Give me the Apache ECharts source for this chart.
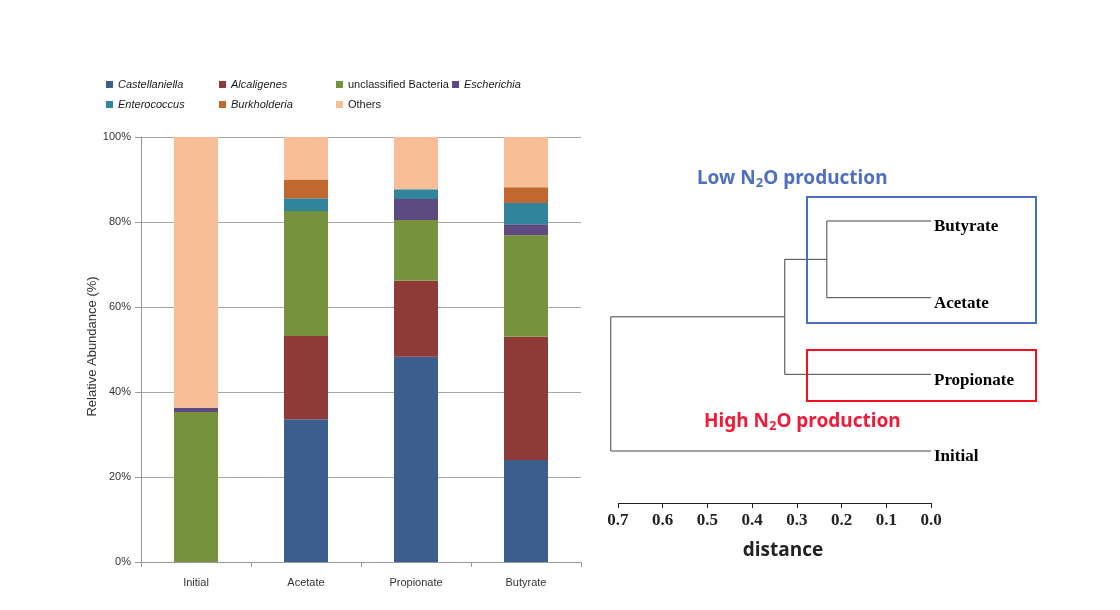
<!DOCTYPE html>
<html><head><meta charset="utf-8">
<script src="https://cdn.jsdelivr.net/npm/echarts@6/dist/echarts.min.js"></script>
<style>html,body{margin:0;padding:0;background:#fff}#c{width:1120px;height:610px}</style>
</head><body><div id="c"></div>
<script>
// ---- Stacked bar data (relative abundance, %) ----
const categories = ['Initial', 'Acetate', 'Propionate', 'Butyrate'];
const castellaniella = [0, 33.6, 48.3, 24.0];
const alcaligenes = [0, 19.6, 17.9, 29.0];
const unclassifiedBacteria = [35.3, 29.4, 14.3, 23.9];
const escherichia = [1.0, 0, 4.9, 2.6];
const enterococcus = [0, 3.0, 2.3, 5.0];
const burkholderia = [0, 4.4, 0, 3.7];
const others = [63.7, 10.0, 12.3, 11.8];
const taxa = ['Castellaniella', 'Alcaligenes', 'unclassified Bacteria', 'Escherichia', 'Enterococcus', 'Burkholderia', 'Others'];
const italicTaxa = ['Castellaniella', 'Alcaligenes', 'Escherichia', 'Enterococcus', 'Burkholderia'];

// ---- Dendrogram data ----
const leaves = ['Butyrate', 'Acetate', 'Propionate', 'Initial'];
// [child A, child B, merge distance]; leaves are 0..3, merged nodes 4..
const linkage = [[0, 1, 0.233], [4, 2, 0.327], [5, 3, 0.716]];
const distanceTicks = [0, 0.1, 0.2, 0.3, 0.4, 0.5, 0.6, 0.7];

const colors = ['#3B5E8C', '#8E3A38', '#76923C', '#5E4A7E', '#31849B', '#C0682E', '#F8BE98'];
const values = [castellaniella, alcaligenes, unclassifiedBacteria, escherichia, enterococcus, burkholderia, others];

const barSeries = taxa.map((t, i) => ({
  name: t, type: 'bar', stack: 'total', xAxisIndex: 0, yAxisIndex: 0,
  barWidth: 44, data: values[i], itemStyle: { color: colors[i] }
}));

// build dendrogram segments from linkage
const nodes = leaves.map((n, i) => ({ x: 0, y: i }));
const dendroSeries = linkage.map(([a, b, d]) => {
  const A = nodes[a], B = nodes[b];
  nodes.push({ x: d, y: (A.y + B.y) / 2 });
  return {
    type: 'line', xAxisIndex: 1, yAxisIndex: 1, clip: false, silent: true,
    showSymbol: false, symbol: 'none',
    lineStyle: { color: '#444', width: 1 },
    data: [[A.x, A.y], [d, A.y], [d, B.y], [B.x, B.y]]
  };
});

// legends: two rows, columns
const legendPos = [[106, 79], [219, 79], [336, 79], [452, 79], [106, 99], [219, 99], [336, 99]];
const legends = taxa.map((t, i) => ({
  data: [t], left: legendPos[i][0], top: legendPos[i][1], icon: 'rect', padding: 0,
  itemWidth: 7, itemHeight: 7, itemGap: 5,
  textStyle: { fontFamily: 'Liberation Sans', fontSize: 11, color: '#1a1a1a',
    fontStyle: italicTaxa.includes(t) ? 'italic' : 'normal' }
}));

const chart = echarts.init(document.getElementById('c'));
chart.setOption({
  animation: false,
  backgroundColor: '#fff',
  legend: legends,
  title: [
    { text: '{a|Low N}{s|2}{a|O production}', left: 692, top: 162,
      textStyle: { rich: {
        a: { fontFamily: 'Noto Sans', fontSize: 19, color: '#5070BE' },
        s: { fontFamily: 'Noto Sans', fontSize: 13, color: '#5070BE', padding: [10, 0, 0, 0] } } } },
    { text: '{a|High N}{s|2}{a|O production}', left: 699, top: 405,
      textStyle: { rich: {
        a: { fontFamily: 'Noto Sans', fontSize: 19, color: '#EE1C3A' },
        s: { fontFamily: 'Noto Sans', fontSize: 13, color: '#EE1C3A', padding: [10, 0, 0, 0] } } } }
  ],
  grid: [
    { left: 141, top: 137, width: 440, height: 425 },
    { left: 609, top: 221, width: 322, height: 230 }
  ],
  xAxis: [
    { type: 'category', gridIndex: 0, data: categories,
      axisLine: { lineStyle: { color: '#999' } },
      axisTick: { show: true, length: 5, lineStyle: { color: '#999' } },
      axisLabel: { fontFamily: 'Liberation Sans', fontSize: 11, color: '#333', margin: 15 } },
    { type: 'value', gridIndex: 1, min: 0, max: 0.72, inverse: true,
      position: 'bottom', offset: 52,
      axisLine: { show: false, onZero: false },
      axisTick: { show: true, length: 5, customValues: distanceTicks, lineStyle: { color: '#222' } },
      splitLine: { show: false },
      axisLabel: { customValues: distanceTicks, formatter: v => v.toFixed(1), fontFamily: 'Liberation Serif', fontWeight: 700,
        fontSize: 17, color: '#222', margin: 9 },
      name: 'distance', nameLocation: 'middle', nameGap: 38,
      nameTextStyle: { fontFamily: 'Open Sans', fontWeight: 'bold', fontSize: 19, color: '#222', padding: [0, 0, 0, 26] } }
  ],
  yAxis: [
    { type: 'value', gridIndex: 0, min: 0, max: 100, interval: 20,
      axisLine: { show: true, lineStyle: { color: '#999' } },
      axisTick: { show: true, length: 6, lineStyle: { color: '#999' } },
      splitLine: { lineStyle: { color: '#A6A6A6' } },
      axisLabel: { formatter: '{value}%', fontFamily: 'Liberation Sans', fontSize: 11, color: '#333', margin: 10 },
      name: 'Relative Abundance (%)', nameLocation: 'middle', nameGap: 41, nameRotate: 90,
      nameTextStyle: { fontFamily: 'Liberation Sans', fontSize: 13, color: '#333', padding: [0, 0, 0, 6] } },
    { type: 'value', gridIndex: 1, min: 0, max: 3, inverse: true, show: false },
    { type: 'category', gridIndex: 1, data: leaves, inverse: true, boundaryGap: false, position: 'right',
      axisLine: { show: false }, axisTick: { show: false }, splitLine: { show: false },
      axisLabel: { margin: 3, fontFamily: 'Liberation Serif', fontWeight: 700, fontSize: 17, color: '#000',
        verticalAlign: 'top', lineHeight: 12 } }
  ],
  graphic: [
    { type: 'rect', shape: { x: 807, y: 197, width: 229, height: 126 },
      style: { fill: 'none', stroke: '#4A6DC0', lineWidth: 2 }, z: 10 },
    { type: 'rect', shape: { x: 807, y: 350, width: 229, height: 51 },
      style: { fill: 'none', stroke: '#F0101E', lineWidth: 2 }, z: 10 }
  ],
  series: [...barSeries, ...dendroSeries]
});
// distance axis line spans 0.0–0.7 only
const p0 = chart.convertToPixel({ xAxisIndex: 1 }, 0);
const p7 = chart.convertToPixel({ xAxisIndex: 1 }, 0.7);
chart.setOption({ graphic: [{}, {}, { type: 'line', shape: { x1: p7, y1: 503.5, x2: p0, y2: 503.5 },
  style: { stroke: '#222', lineWidth: 1 }, z: 10 }] });
</script></body></html>
